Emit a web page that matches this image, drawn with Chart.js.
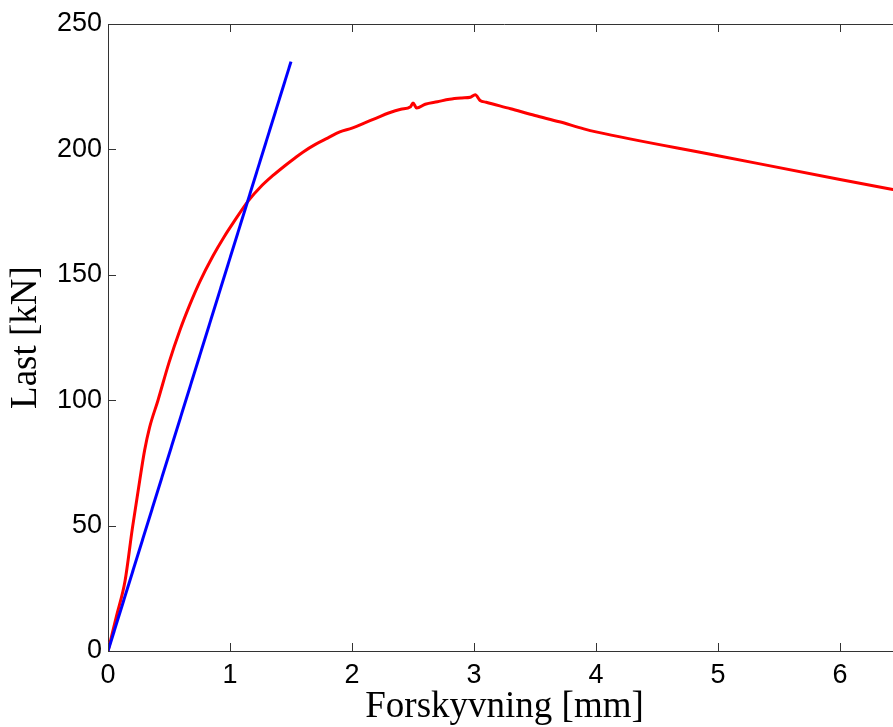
<!DOCTYPE html>
<html>
<head>
<meta charset="utf-8">
<script src="https://cdn.jsdelivr.net/npm/chart.js@4/dist/chart.umd.min.js"></script>
<style>
    html, body { margin: 0; padding: 0; background: #fff; overflow: hidden; }
    #wrap { width: 906px; height: 727px; }
</style>
</head>
<body>
<div id="wrap"><canvas id="loadChart" width="906" height="727"></canvas></div>
<script>
// Measured curve (Forskyvning [mm] vs Last [kN])
const measuredX = [0, 0.07, 0.14, 0.2, 0.26, 0.3, 0.34, 0.41, 0.5, 0.59, 0.67, 0.75, 0.86, 0.95, 1.03,
    1.15, 1.25, 1.35, 1.45, 1.53, 1.6, 1.7, 1.8, 1.9, 2.0, 2.1, 2.2, 2.3, 2.4, 2.48, 2.5, 2.53,
    2.6, 2.7, 2.8, 2.9, 2.97, 3.01, 3.05, 3.1, 3.3, 3.5, 3.7, 3.9, 4.0, 5.0, 6.0, 6.6];
const measuredY = [0, 14, 28, 49, 68, 80, 89, 100, 115, 128, 138, 147, 157.5, 165, 171,
    179.5, 185, 189.5, 193.5, 196.5, 199, 202, 204.5, 207, 208.5, 210.5, 212.5, 214.5, 216, 217, 218.5, 216.5,
    218, 219, 220, 220.5, 220.8, 221.8, 219.5, 218.8, 216.2, 213.5, 211, 208.2, 207, 197.5, 188, 182.5];

// Initial stiffness line
const stiffnessX = [0, 1.5];
const stiffnessY = [0, 235];

// Axis ticks
const xTicks = [0, 1, 2, 3, 4, 5, 6];
const yTicks = [0, 50, 100, 150, 200, 250];

const toPoints = (xs, ys) => xs.map((x, i) => ({ x: x, y: ys[i] }));

// MATLAB-style box with inward ticks
const boxTicks = {
    id: 'boxTicks',
    afterDraw(chart) {
        const { ctx, chartArea: a, scales: { x, y } } = chart;
        const len = 8;
        ctx.save();
        ctx.strokeStyle = '#333';
        ctx.lineWidth = 1;
        ctx.beginPath();
        ctx.moveTo(a.left, a.top + 0.5);
        ctx.lineTo(a.right, a.top + 0.5);
        ctx.lineTo(a.right, a.bottom);
        xTicks.forEach(v => {
            const px = Math.round(x.getPixelForValue(v)) + 0.5;
            ctx.moveTo(px, a.bottom);
            ctx.lineTo(px, a.bottom - len);
            ctx.moveTo(px, a.top);
            ctx.lineTo(px, a.top + len);
        });
        yTicks.forEach(v => {
            const py = Math.round(y.getPixelForValue(v)) + 0.5;
            ctx.moveTo(a.left, py);
            ctx.lineTo(a.left + len, py);
            ctx.moveTo(a.right, py);
            ctx.lineTo(a.right - len, py);
        });
        ctx.stroke();
        ctx.restore();
    }
};

const tickFont = { family: '"Liberation Sans", Arial, sans-serif', size: 27 };
const titleFont = { family: '"Liberation Serif", "Times New Roman", serif', size: 37 };

new Chart(document.getElementById('loadChart'), {
    type: 'line',
    data: {
        datasets: [
            {
                label: 'Stivhet',
                data: toPoints(stiffnessX, stiffnessY),
                borderColor: '#0000ff',
                borderWidth: 3,
                pointRadius: 0,
                fill: false,
                tension: 0
            },
            {
                label: 'Last',
                data: toPoints(measuredX, measuredY),
                borderColor: '#ff0000',
                borderWidth: 3,
                pointRadius: 0,
                fill: false,
                cubicInterpolationMode: 'monotone'
            }
        ]
    },
    options: {
        responsive: false,
        animation: false,
        layout: { padding: { top: 24, right: 5, left: 0, bottom: 0 } },
        plugins: {
            legend: { display: false },
            tooltip: { enabled: false }
        },
        scales: {
            x: {
                type: 'linear',
                min: 0,
                max: 6.5,
                afterBuildTicks: s => { s.ticks = xTicks.map(v => ({ value: v })); },
                afterFit: s => { s.height = 76; },
                grid: { display: false, drawTicks: false },
                border: { display: true, color: '#333', width: 1 },
                ticks: { color: '#000', font: tickFont, padding: 8, maxRotation: 0 },
                title: {
                    display: true,
                    text: 'Forskyvning [mm]',
                    color: '#000',
                    font: titleFont,
                    padding: { top: 0, bottom: -2 }
                }
            },
            y: {
                type: 'linear',
                min: 0,
                max: 250,
                afterBuildTicks: s => { s.ticks = yTicks.map(v => ({ value: v })); },
                afterFit: s => { s.width = 108; },
                grid: { display: false, drawTicks: false },
                border: { display: true, color: '#333', width: 1 },
                ticks: { color: '#000', font: tickFont, padding: 6 },
                title: {
                    display: true,
                    text: 'Last [kN]',
                    color: '#000',
                    font: titleFont,
                    padding: { top: 4, bottom: 0 }
                }
            }
        }
    },
    plugins: [boxTicks]
});
</script>
</body>
</html>
